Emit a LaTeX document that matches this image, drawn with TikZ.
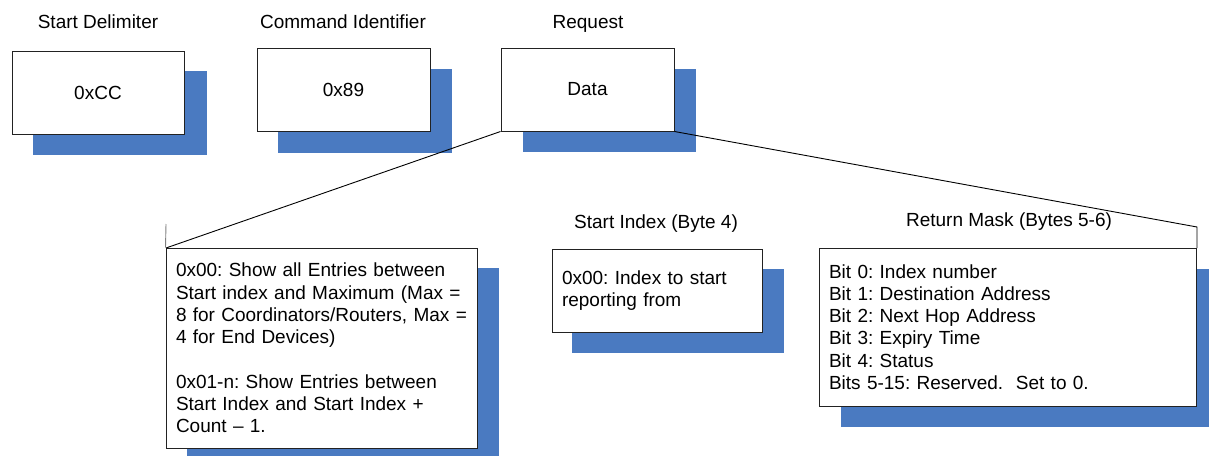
\documentclass[tikz,border=0pt]{standalone}
\usepackage{fontspec}
\setmainfont{Liberation Sans}
\frenchspacing
\definecolor{shadowblue}{HTML}{4A7AC1}
\definecolor{boxline}{HTML}{222222}
\tikzset{
  box/.style={draw=boxline, line width=1pt, fill=white, inner sep=0pt, font=\fontsize{19}{22.3}\selectfont},
  textbox/.style={box, inner xsep=10pt, inner ysep=0pt, align=left},
  shadowrect/.style={fill=shadowblue},
  lbl/.style={anchor=base, inner sep=0pt, font=\fontsize{19}{22.3}\selectfont},
  callout/.style={draw=black, line width=0.9pt},
}
\begin{document}
\begin{tikzpicture}[x=1pt,y=-1pt]
\useasboundingbox (0,0) rectangle (1209,455);
\clip (0,0) rectangle (1209,455);
% shadows
\fill[shadowblue] (33,71) rectangle (207,155);
\fill[shadowblue] (278,69) rectangle (452,153);
\fill[shadowblue] (523,69) rectangle (696,152);
\fill[shadowblue] (187,268) rectangle (499,470);
\fill[shadowblue] (572,269) rectangle (784,353);
\fill[shadowblue] (841,269) rectangle (1220,427);
% callout lines
\coordinate (cl) at (166,248);
\coordinate (cltop) at (166,224);
\coordinate (cr) at (1197,227);
\coordinate (crbot) at (1197,248);
% top boxes
\node[box, minimum width=172pt, minimum height=83pt] (b1) at (98,92.5) {0xCC};
\node[box, minimum width=173pt, minimum height=83pt] (b2) at (343.5,89.5) {0x89};
\node[box, minimum width=173pt, minimum height=83pt] (b3) at (587.5,89.5) {Data};
\node[lbl] (l1) at (98,28) {Start Delimiter};
\node[lbl] (l2) at (343,28) {Command Identifier};
\node[lbl] (l3) at (588,28) {Request};
% lower boxes
\node[textbox, text width=291pt, minimum height=200pt] (b4) at (321.5,348)
 {0x00: Show all Entries between Start index and Maximum (Max = 8 for Coordinators/Routers, Max = 4 for End Devices)\\[22.3pt]
  0x01-n: Show Entries between Start Index and Start Index + Count -- 1.};
\node[textbox, text width=190pt, minimum height=83pt] (b5) at (657,290.5)
 {0x00: Index to start\\reporting from};
\node[textbox, text width=357pt, minimum height=158pt] (b6) at (1007.5,327)
 {Bit 0: Index number\\Bit 1: Destination Address\\Bit 2: Next Hop Address\\Bit 3: Expiry Time\\Bit 4: Status\\Bits 5-15: Reserved.\ \ Set to 0.};
\node[lbl] (l5) at (656,228) {Start Index (Byte 4)};
\node[lbl] (l6) at (1009,226) {Return Mask (Bytes 5-6)};
% connectors
\draw[callout] (b3.south west) -- (cl);
\draw[callout, draw=gray] (cltop) -- (b4.north west);
\draw[callout] (b3.south east) -- (cr) -- (crbot);
\end{tikzpicture}
\end{document}
